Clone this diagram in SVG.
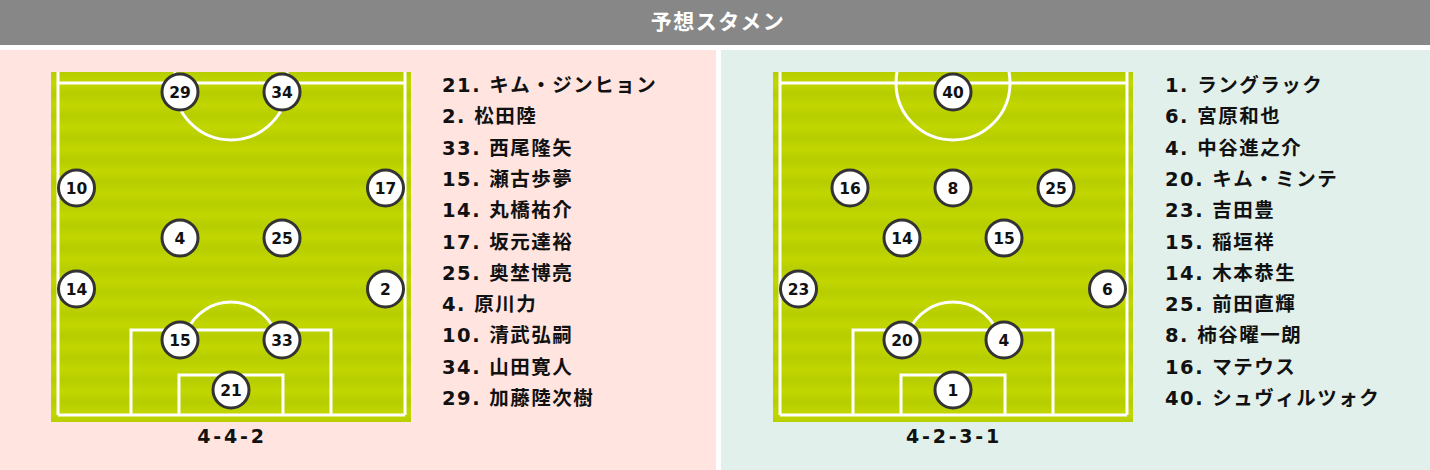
<svg xmlns="http://www.w3.org/2000/svg" width="1430" height="470" viewBox="0 0 1430 470">
<style>
.title{font-family:"Noto Sans CJK JP","Noto Sans",sans-serif;font-weight:bold;font-size:21px;fill:#fff;letter-spacing:1.5px}
.line{fill:none;stroke:#fff;stroke-width:3}
.pc{fill:#fff;stroke:#333;stroke-width:3}
.pn{font-family:"DejaVu Sans","Noto Sans CJK JP",sans-serif;font-weight:bold;font-size:15.5px;fill:#111;text-anchor:middle}
.li{font-family:"DejaVu Sans","Noto Sans CJK JP",sans-serif;font-weight:bold;font-size:19.5px;fill:#111;letter-spacing:1.5px}
.fm{font-family:"DejaVu Sans","Noto Sans CJK JP",sans-serif;font-weight:bold;font-size:19px;fill:#111;letter-spacing:2.8px;text-anchor:middle}
</style>
<defs>
<linearGradient id="stg" x1="0" y1="0" x2="0" y2="1">
<stop offset="0" stop-color="#b6cd00"/>
<stop offset="0.5" stop-color="#c2d700"/>
<stop offset="1" stop-color="#b6cd00"/>
</linearGradient>
<pattern id="stripes" patternUnits="userSpaceOnUse" x="0" y="72" width="400" height="22">
<rect width="400" height="22" fill="url(#stg)"/>
</pattern>
<clipPath id="clipL"><rect x="51" y="72" width="360" height="350"/></clipPath>
<clipPath id="clipR"><rect x="773" y="72" width="360" height="350"/></clipPath>
</defs>

<rect x="0" y="0" width="1430" height="470" fill="#fff"/>
<g id="header">
<rect x="0" y="0" width="1430" height="45" fill="#878787"/>
<text class="title" x="718" y="29" text-anchor="middle">予想スタメン</text>
</g>
<rect x="0" y="50" width="716" height="420" fill="#ffe4e0"/>
<rect x="721" y="50" width="709" height="420" fill="#e1f0ea"/>

<g id="pitch-left">
<rect x="51" y="72" width="360" height="350" fill="url(#stripes)"/>
<g clip-path="url(#clipL)">
<line class="line" x1="58" y1="72" x2="58" y2="415"/>
<line class="line" x1="405" y1="72" x2="405" y2="415"/>
<line class="line" x1="58" y1="415" x2="405" y2="415"/>
<line class="line" x1="58" y1="83" x2="405" y2="83"/>
<circle class="line" cx="231" cy="83" r="57"/>
<polyline class="line" points="131,415 131,330 331,330 331,415"/>
<polyline class="line" points="179,415 179,375 283,375 283,415"/>
<path class="line" d="M187.4 330 A48 48 0 0 1 274.6 330"/>
</g>
</g>

<g id="pitch-right">
<rect x="773" y="72" width="360" height="350" fill="url(#stripes)"/>
<g clip-path="url(#clipR)">
<line class="line" x1="780" y1="72" x2="780" y2="415"/>
<line class="line" x1="1127" y1="72" x2="1127" y2="415"/>
<line class="line" x1="780" y1="415" x2="1127" y2="415"/>
<line class="line" x1="780" y1="83" x2="1127" y2="83"/>
<circle class="line" cx="953" cy="83" r="57"/>
<polyline class="line" points="853,415 853,330 1053,330 1053,415"/>
<polyline class="line" points="901,415 901,375 1005,375 1005,415"/>
<path class="line" d="M909.4 330 A48 48 0 0 1 996.6 330"/>
</g>
</g>

<g id="players-left">
<g id="pL29"><circle class="pc" cx="180" cy="92" r="18"/><text class="pn" x="180" y="97.5">29</text></g>
<g id="pL34"><circle class="pc" cx="282" cy="92" r="18"/><text class="pn" x="282" y="97.5">34</text></g>
<g id="pL10"><circle class="pc" cx="76.5" cy="188" r="18"/><text class="pn" x="76.5" y="193.5">10</text></g>
<g id="pL17"><circle class="pc" cx="385.5" cy="188" r="18"/><text class="pn" x="385.5" y="193.5">17</text></g>
<g id="pL4"><circle class="pc" cx="180" cy="238" r="18"/><text class="pn" x="180" y="243.5">4</text></g>
<g id="pL25"><circle class="pc" cx="282" cy="238" r="18"/><text class="pn" x="282" y="243.5">25</text></g>
<g id="pL14"><circle class="pc" cx="76.5" cy="289" r="18"/><text class="pn" x="76.5" y="294.5">14</text></g>
<g id="pL2"><circle class="pc" cx="385.5" cy="289" r="18"/><text class="pn" x="385.5" y="294.5">2</text></g>
<g id="pL15"><circle class="pc" cx="180" cy="340" r="18"/><text class="pn" x="180" y="345.5">15</text></g>
<g id="pL33"><circle class="pc" cx="282" cy="340" r="18"/><text class="pn" x="282" y="345.5">33</text></g>
<g id="pL21"><circle class="pc" cx="231" cy="390" r="18"/><text class="pn" x="231" y="395.5">21</text></g>
</g>

<g id="players-right">
<g id="pR40"><circle class="pc" cx="953" cy="92" r="18"/><text class="pn" x="953" y="97.5">40</text></g>
<g id="pR16"><circle class="pc" cx="850" cy="188" r="18"/><text class="pn" x="850" y="193.5">16</text></g>
<g id="pR8"><circle class="pc" cx="953" cy="188" r="18"/><text class="pn" x="953" y="193.5">8</text></g>
<g id="pR25"><circle class="pc" cx="1056" cy="188" r="18"/><text class="pn" x="1056" y="193.5">25</text></g>
<g id="pR14"><circle class="pc" cx="902" cy="238" r="18"/><text class="pn" x="902" y="243.5">14</text></g>
<g id="pR15"><circle class="pc" cx="1004" cy="238" r="18"/><text class="pn" x="1004" y="243.5">15</text></g>
<g id="pR23"><circle class="pc" cx="798.5" cy="289" r="18"/><text class="pn" x="798.5" y="294.5">23</text></g>
<g id="pR6"><circle class="pc" cx="1107.5" cy="289" r="18"/><text class="pn" x="1107.5" y="294.5">6</text></g>
<g id="pR20"><circle class="pc" cx="902" cy="340" r="18"/><text class="pn" x="902" y="345.5">20</text></g>
<g id="pR4"><circle class="pc" cx="1004" cy="340" r="18"/><text class="pn" x="1004" y="345.5">4</text></g>
<g id="pR1"><circle class="pc" cx="953" cy="390" r="18"/><text class="pn" x="953" y="395.5">1</text></g>
</g>

<g id="formation-left"><text class="fm" x="232" y="443">4-4-2</text></g>
<g id="formation-right"><text class="fm" x="954" y="443">4-2-3-1</text></g>

<g id="list-left">
<text class="li" x="442" y="92">21. キム・ジンヒョン</text>
<text class="li" x="442" y="123.3">2. 松田陸</text>
<text class="li" x="442" y="154.6">33. 西尾隆矢</text>
<text class="li" x="442" y="185.9">15. 瀬古歩夢</text>
<text class="li" x="442" y="217.2">14. 丸橋祐介</text>
<text class="li" x="442" y="248.5">17. 坂元達裕</text>
<text class="li" x="442" y="279.8">25. 奥埜博亮</text>
<text class="li" x="442" y="311.1">4. 原川力</text>
<text class="li" x="442" y="342.4">10. 清武弘嗣</text>
<text class="li" x="442" y="373.7">34. 山田寛人</text>
<text class="li" x="442" y="405">29. 加藤陸次樹</text>
</g>

<g id="list-right">
<text class="li" x="1165" y="92">1. ラングラック</text>
<text class="li" x="1165" y="123.3">6. 宮原和也</text>
<text class="li" x="1165" y="154.6">4. 中谷進之介</text>
<text class="li" x="1165" y="185.9">20. キム・ミンテ</text>
<text class="li" x="1165" y="217.2">23. 吉田豊</text>
<text class="li" x="1165" y="248.5">15. 稲垣祥</text>
<text class="li" x="1165" y="279.8">14. 木本恭生</text>
<text class="li" x="1165" y="311.1">25. 前田直輝</text>
<text class="li" x="1165" y="342.4">8. 柿谷曜一朗</text>
<text class="li" x="1165" y="373.7">16. マテウス</text>
<text class="li" x="1165" y="405">40. シュヴィルツォク</text>
</g>
</svg>
